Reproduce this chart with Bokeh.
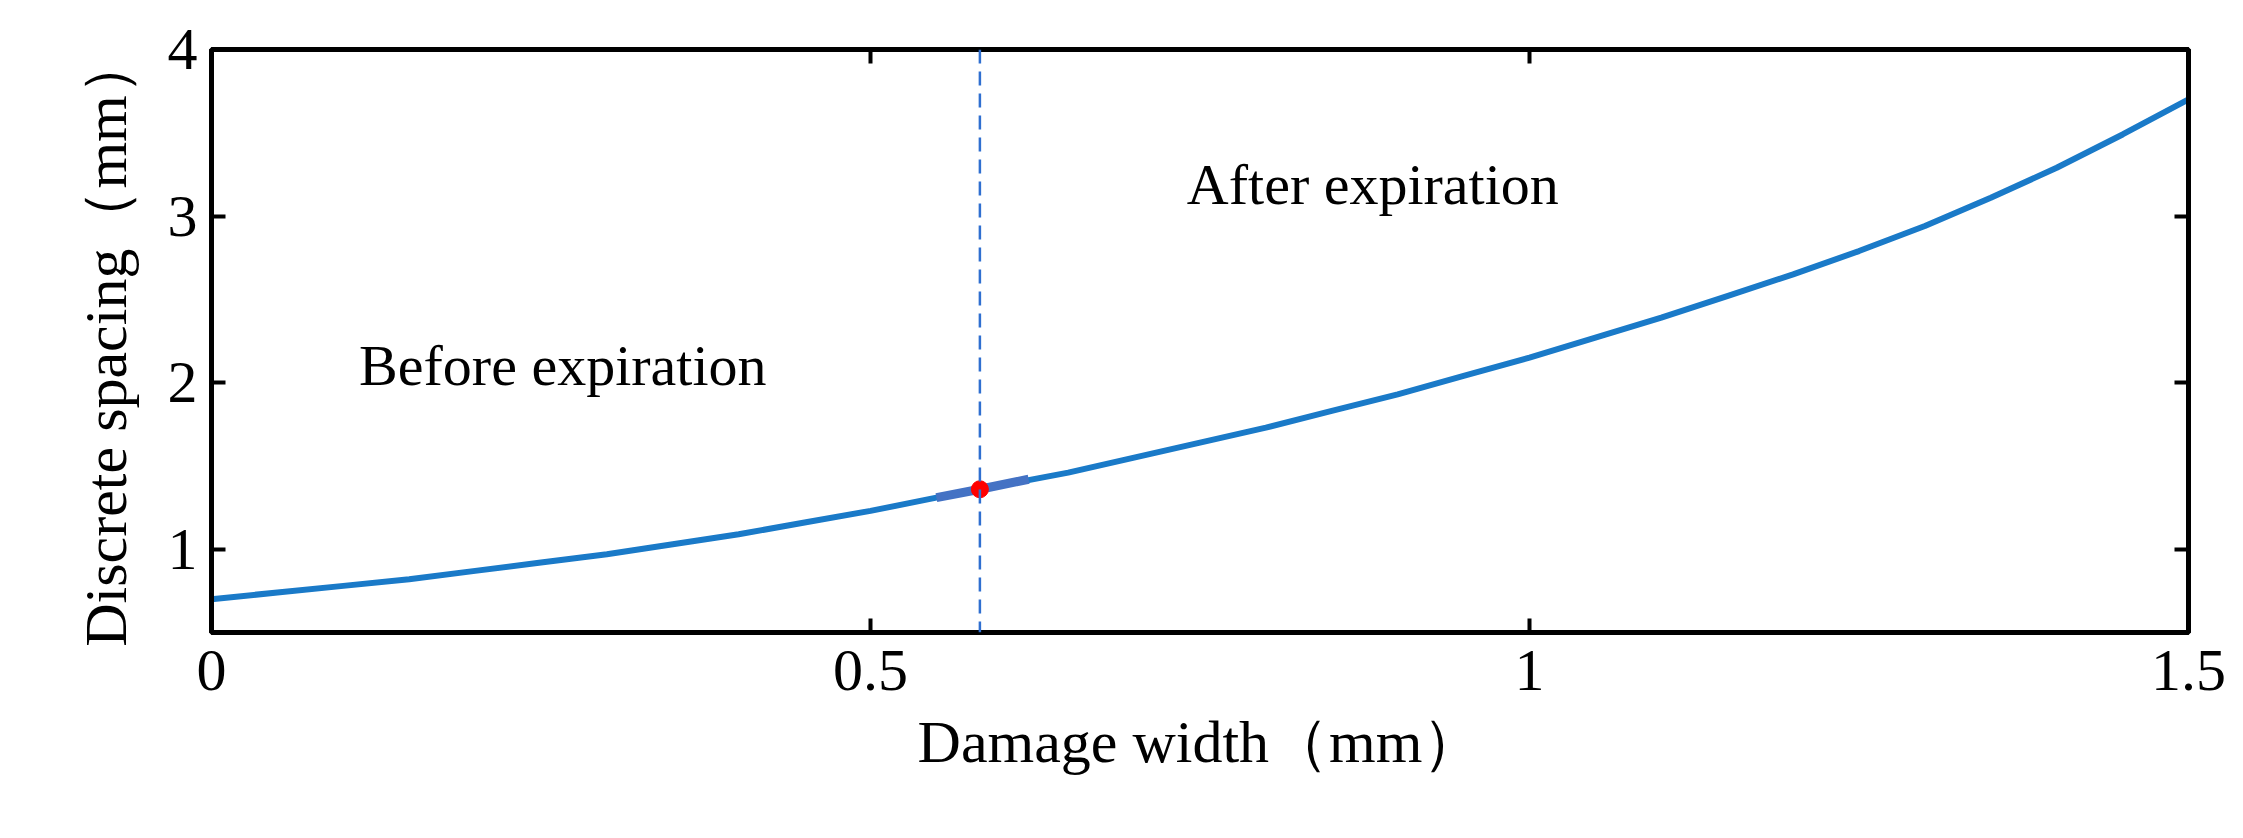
from bokeh.plotting import figure
from bokeh.models import LinearAxis, Range1d, FixedTicker, Span
from bokeh.embed import file_html
from bokeh.resources import INLINE
from bokeh.core.properties import value

xs = [0.0, 0.05, 0.1, 0.15, 0.2, 0.25, 0.3, 0.35, 0.4, 0.45, 0.5, 0.55, 0.583, 0.65, 0.7, 0.75,
      0.8, 0.85, 0.9, 0.95, 1.0, 1.05, 1.1, 1.15, 1.2, 1.25, 1.3, 1.35, 1.4, 1.45, 1.5]
ys = [0.70, 0.74, 0.78, 0.82, 0.87, 0.92, 0.97, 1.03, 1.09, 1.16, 1.23, 1.31, 1.36, 1.46, 1.55, 1.64,
      1.73, 1.83, 1.93, 2.04, 2.15, 2.27, 2.39, 2.52, 2.65, 2.79, 2.94, 3.11, 3.29, 3.49, 3.70]
seg_x = [0.55, 0.583, 0.62]
seg_y = [1.31, 1.36, 1.42]
pt_x = [0.583]
pt_y = [1.36]
x_ticks = [0, 0.5, 1, 1.5]
y_ticks = [1, 2, 3, 4]

FONT = "Liberation Serif"
p = figure(width=2227, height=822, output_backend="svg", toolbar_location=None,
           x_range=Range1d(0, 1.5), y_range=Range1d(0.5, 4),
           min_border_left=211, min_border_right=39, min_border_top=49, min_border_bottom=190)
p.grid.visible = False
p.outline_line_color = "black"
p.outline_line_width = 5

def style(ax):
    ax.major_tick_in = 14
    ax.major_tick_out = 0
    ax.minor_tick_line_color = None
    ax.major_tick_line_width = 4
    ax.axis_line_width = 5
    ax.major_label_text_font = FONT
    ax.major_label_text_font_size = "60px"
    ax.major_label_text_color = "black"
    ax.axis_label_text_font = FONT
    ax.axis_label_text_font_size = "60px"
    ax.axis_label_text_color = "black"
    ax.axis_label_text_font_style = "normal"

p.xaxis.ticker = FixedTicker(ticks=x_ticks)
p.yaxis.ticker = FixedTicker(ticks=y_ticks)
p.xaxis.major_label_overrides = {0: "0", 0.5: "0.5", 1: "1", 1.5: "1.5"}
p.xaxis.axis_label = "Damage width（mm）"
p.yaxis.axis_label = "Discrete spacing（mm）"
style(p.xaxis[0]); style(p.yaxis[0])
p.xaxis.major_label_standoff = 18
p.yaxis.major_label_standoff = 14
p.xaxis.axis_label_standoff = 16
p.yaxis.axis_label_standoff = 26

ra = LinearAxis(ticker=FixedTicker(ticks=y_ticks), major_label_text_color=None); style(ra)
ra.major_label_text_color = None
ta = LinearAxis(ticker=FixedTicker(ticks=x_ticks)); style(ta)
ta.major_label_text_color = None
p.add_layout(ra, "right"); p.add_layout(ta, "above")

p.add_layout(Span(location=0.583, dimension="height", line_color="#2f6fd0",
                  line_width=2.5, line_dash="14 8"))
p.line(xs, ys, line_color="#1a7ac8", line_width=6)
p.line(seg_x, seg_y, line_color="#4472c4", line_width=9)
p.scatter(pt_x, pt_y, size=17, color="red")

p.text([0.112], [2.1], text=["Before expiration"], text_font=value(FONT),
       text_font_size="58px", text_baseline="middle", text_color="black")
p.text([0.74], [3.19], text=["After expiration"], text_font=value(FONT),
       text_font_size="58px", text_baseline="middle", text_color="black")

open("out.html", "w").write(file_html(p, INLINE))
